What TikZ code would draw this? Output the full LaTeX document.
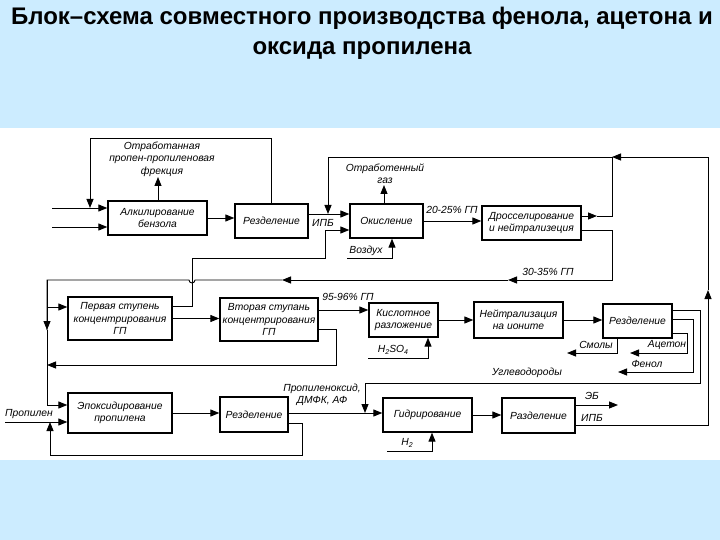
\documentclass[tikz,border=0pt]{standalone}
\usepackage{fontspec}
\setmainfont{Liberation Sans}
\usetikzlibrary{arrows.meta}
\definecolor{bgblue}{RGB}{204,236,255}
\newcommand\lblfont{\itshape\fontsize{10.3}{12.3}\selectfont}
\newcommand\subs[1]{\raisebox{-2pt}{\fontsize{7}{7}\selectfont #1}}
\begin{document}
\begin{tikzpicture}[x=1pt,y=-1pt,
  box/.style={draw, line width=1.3pt, inner sep=0pt, align=center, font=\lblfont},
  lbl/.style={inner sep=0pt, align=center, font=\lblfont},
  ln/.style={line width=0.9pt},
  arr/.style={ln, -{Triangle[length=9pt,width=7pt]}}]
\fill[bgblue] (0,0) rectangle (720,540);
\useasboundingbox (0,0) rectangle (720,540);
\fill[white] (0,128) rectangle (720,460);
\node[font=\bfseries\fontsize{24}{30}\selectfont, align=center] (title) at (362,33)
  {Блок–схема совместного производства фенола, ацетона и\\оксида пропилена};
% boxes
\node[box, minimum width=99pt, minimum height=34pt] (alk) at (157.5,218) {Алкилирование\\бензола};
\node[box, minimum width=73pt, minimum height=34pt] (raz1) at (271.5,221) {Резделение};
\node[box, minimum width=73pt, minimum height=34pt] (oks) at (386.5,221) {Окисление};
\node[box, minimum width=99pt, minimum height=34pt] (dros) at (531.5,223) {Дросселирование\\и нейтрализеция};
\node[box, minimum width=104pt, minimum height=43pt] (st1) at (120,318.5) {Первая ступень\\концентрирования\\ГП};
\node[box, minimum width=98pt, minimum height=43pt] (st2) at (269,319.5) {Вторая ступань\\концентрирования\\ГП};
\node[box, minimum width=69pt, minimum height=34pt] (kisl) at (403.5,320) {Кислотное\\разложение};
\node[box, minimum width=89pt, minimum height=36pt] (neut) at (518.5,320) {Нейтрализация\\на ионите};
\node[box, minimum width=69pt, minimum height=34pt] (raz2) at (637.5,321) {Резделение};
\node[box, minimum width=104pt, minimum height=40pt] (epox) at (120,413) {Эпоксидирование\\пропилена};
\node[box, minimum width=68pt, minimum height=35pt] (raz3) at (254,414.5) {Резделение};
\node[box, minimum width=89pt, minimum height=34pt] (gidr) at (427.5,415) {Гидрирование};
\node[box, minimum width=73pt, minimum height=35pt] (raz4) at (538.5,415.5) {Разделение};
% coordinates
\coordinate (i1) at (52,208); \coordinate (i2) at (52,227);
\coordinate (r1) at (90,138);
\coordinate (g1) at (158,177);
\coordinate (ipb1) at (308,214);
\coordinate (R1) at (708,425); \coordinate (R2) at (708,290); \coordinate (R3) at (708,157);
\coordinate (J1) at (612,157); \coordinate (T1) at (328,157); \coordinate (T2) at (328,214);
\coordinate (g2) at (384,185);
\coordinate (v1) at (347,258); \coordinate (v2) at (392,258);
\coordinate (d1) at (597,216); \coordinate (d2) at (612,216);
\coordinate (d3) at (612,230); \coordinate (d4) at (612,280);
\coordinate (a1) at (508,280); \coordinate (a2) at (282,280);
\coordinate (h1) at (195,280);
\coordinate (c1) at (47,280); \coordinate (c2) at (47,330); \coordinate (c3) at (47,405);
\coordinate (b1) at (47,307);
\coordinate (s1) at (192,306); \coordinate (s2) at (192,258); \coordinate (s3) at (325,258); \coordinate (s4) at (325,230);
\coordinate (k1) at (318,310);
\coordinate (q1) at (336,329); \coordinate (q2) at (336,365); \coordinate (q3) at (47,365);
\coordinate (hs1) at (368,358); \coordinate (hs2) at (428,358);
\coordinate (u1) at (700,310); \coordinate (u2) at (700,383); \coordinate (u3) at (365,383); \coordinate (u4) at (365,413);
\coordinate (f1) at (693,319); \coordinate (f2) at (693,372); \coordinate (f3) at (618,372);
\coordinate (ac1) at (687,333); \coordinate (ac2) at (687,353); \coordinate (ac3) at (630,353);
\coordinate (sm1) at (617,353); \coordinate (sm2) at (567,353);
\coordinate (e1) at (288,413);
\coordinate (w1) at (302,423); \coordinate (w2) at (302,455); \coordinate (w3) at (50,455); \coordinate (w4) at (50,422);
\coordinate (pp) at (5,422);
\coordinate (hh1) at (387,451); \coordinate (hh2) at (432,451);
\coordinate (eb) at (618,405);
% connectors
\draw[arr] (i1) -- (i1 -| alk.west);
\draw[arr] (i2) -- (i2 -| alk.west);
\draw[arr] (raz1.north) |- (r1) -- (r1 |- i1);
\draw[arr] (g1 |- alk.north) -- (g1);
\draw[arr] (alk.east) -- (alk.east -| raz1.west);
\draw[arr] (ipb1) -- (ipb1 -| oks.west);
\draw[arr] (R1 -| raz4.east) -- (R1) -- (R2);
\draw[arr] (R2) -- (R3) -- (J1);
\draw[arr] (J1) -- (T1) -- (T2);
\draw[arr] (g2 |- oks.north) -- (g2);
\draw[arr] (v1) -- (v2) -- (v2 |- oks.south);
\draw[arr] (oks.east) -- (oks.east -| dros.west);
\draw[arr] (d1 -| dros.east) -- (d1);
\draw[ln] (d1) -- (d2) -- (J1);
\draw[arr] (d3 -| dros.east) -- (d3) -- (d4) -- (a1);
\draw[arr] (a1) -- (a2);
\draw[ln] (a2) -- (h1) arc[start angle=0, end angle=180, radius=3] -- (c1) -- (c2);
\draw[arr] (c1) -- (c2);
\draw[arr] (c2) -- (c3) -- (c3 -| epox.west);
\draw[arr] (b1) -- (b1 -| st1.west);
\draw[arr] (s1 -| st1.east) -- (s1) -- (s2) -- (s3) -- (s4) -- (s4 -| oks.west);
\draw[arr] (st1.east) -- (st1.east -| st2.west);
\draw[arr] (k1 -| st2.east) -- (k1 -| kisl.west);
\draw[arr] (q1 -| st2.east) -- (q1) -- (q2) -- (q3);
\draw[arr] (hs1) -- (hs2) -- (hs2 |- kisl.south);
\draw[arr] (kisl.east) -- (kisl.east -| neut.west);
\draw[arr] (neut.east) -- (neut.east -| raz2.west);
\draw[arr] (u1 -| raz2.east) -- (u1) -- (u2) -- (u3) -- (u4);
\draw[arr] (f1 -| raz2.east) -- (f1) -- (f2) -- (f3);
\draw[arr] (ac1 -| raz2.east) -- (ac1) -- (ac2) -- (ac3);
\draw[arr] (sm1 |- raz2.south) -- (sm1) -- (sm2);
\draw[arr] (epox.east) -- (epox.east -| raz3.west);
\draw[arr] (e1 -| raz3.east) -- (e1 -| gidr.west);
\draw[arr] (w1 -| raz3.east) -- (w1) -- (w2) -- (w3) -- (w4);
\draw[arr] (pp) -- (pp -| epox.west);
\draw[arr] (hh1) -- (hh2) -- (hh2 |- gidr.south);
\draw[arr] (gidr.east) -- (gidr.east -| raz4.west);
\draw[arr] (eb -| raz4.east) -- (eb);
% labels
\node[lbl] (l1) at (162,159) {Отработанная\\пропен-пропиленовая\\фрекция};
\node[lbl] (l2) at (385,174) {Отработенный\\газ};
\node[lbl] (l3) at (323,223) {ИПБ};
\node[lbl] (l4) at (366,251) {Воздух};
\node[lbl] (l5) at (452,210) {20-25\% ГП};
\node[lbl] (l6) at (548,272) {30-35\% ГП};
\node[lbl] (l7) at (348,297) {95-96\% ГП};
\node[lbl] (l8) at (393,350) {H\subs{2}SO\subs{4}};
\node[lbl] (l9) at (596,345) {Смолы};
\node[lbl] (l10) at (667,345) {Ацетон};
\node[lbl] (l11) at (647,364) {Фенол};
\node[lbl] (l12) at (527,373) {Углеводороды};
\node[lbl] (l13) at (29,414) {Пропилен};
\node[lbl] (l14) at (322,395) {Пропиленоксид,\\ДМФК, АФ};
\node[lbl] (l15) at (407,443) {H\subs{2}};
\node[lbl] (l16) at (592,396) {ЭБ};
\node[lbl] (l17) at (592,418) {ИПБ};
\end{tikzpicture}
\end{document}
